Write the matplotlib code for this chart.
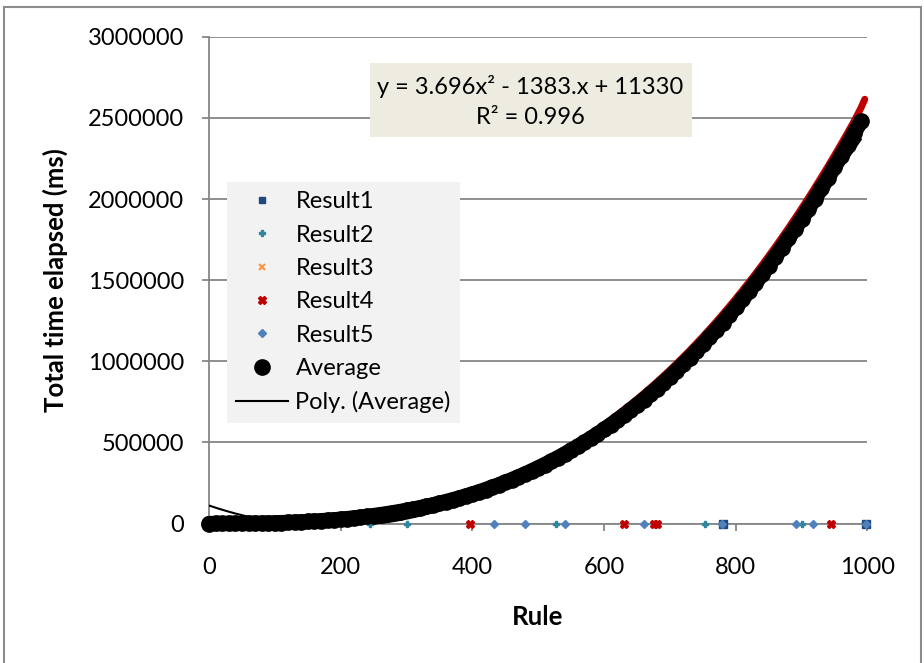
import numpy as np
import matplotlib
matplotlib.use("Agg")
import matplotlib.pyplot as plt
from matplotlib.patches import Rectangle
from matplotlib.lines import Line2D

plt.rcParams['font.family'] = ['Lato', 'DejaVu Sans']

# ---------------- data ----------------
rule_avg = list(range(0, 1000, 10))
average = [
    0, 20, 100, 240, 460, 780, 1200, 1800, 2500, 3300,
    4300, 5500, 6900, 8500, 10300, 12400, 14700, 17200, 20100, 23200,
    26700, 30500, 34600, 39000, 43800, 49000, 54600, 60600, 67100, 73900,
    81200, 89000, 97300, 106000, 115200, 125000, 135300, 146200, 157600, 169600,
    182100, 195300, 209100, 223500, 238600, 254400, 270800, 287900, 305700, 324200,
    343500, 363500, 384300, 405800, 428200, 451300, 475200, 500000, 525600, 552100,
    579500, 607700, 636900, 667000, 698000, 729900, 762800, 796700, 831500, 867400,
    904200, 942100, 981100, 1021100, 1062200, 1104300, 1147600, 1192000, 1237500, 1284100,
    1331900, 1380900, 1431000, 1482400, 1534900, 1588700, 1643800, 1700100, 1757600, 1816500,
    1876600, 1938100, 2000800, 2065000, 2130400, 2197300, 2265500, 2335100, 2406100, 2478600,
]

# Result4 run that shows just above the Average band
result4_curve_x = list(range(600, 1000, 10)) + [996]
result4_curve_y = [
    609500, 638900, 669300, 700600, 732700, 765800, 799900, 835000, 871000, 908100,
    946000, 985100, 1025300, 1066500, 1108800, 1152100, 1196500, 1242100, 1288800, 1336600,
    1385600, 1435800, 1487000, 1539600, 1593300, 1648300, 1704600, 1762100, 1820700, 1880800,
    1942100, 2004800, 2068700, 2134100, 2200600, 2268700, 2338100, 2408900, 2481100, 2560000,
    2615000,
]

# runs that returned 0
result1_zero_x = [781, 998]
result2_zero_x = [244, 301, 527, 754, 901]
result3_zero_x = []
result4_zero_x = [397, 630, 676, 681, 944, 998]
result5_zero_x = [433, 480, 541, 660, 779, 892, 918, 998]

x_ticks = [0, 200, 400, 600, 800, 1000]
y_ticks = [0, 500000, 1000000, 1500000, 2000000, 2500000, 3000000]

eq_text = "y = 3.696x\u00b2 - 1383.x + 11330"
r2_text = "R\u00b2 = 0.996"

# ---------------- styles ----------------
W, H = 924, 663
C1, C2, C3, C4, C5 = '#1F497D', '#31859C', '#F79646', '#C00000', '#4F81BD'
GRAY = '#868686'
FS = 17
FSB = 18.5

fig = plt.figure(figsize=(W / 100, H / 100), dpi=100)
fig.patch.set_facecolor('white')

ax = fig.add_axes([209 / W, 1 - 523.5 / H, 658.4 / W, 486.7 / H])
ax.set_xlim(0, 1000)
ax.set_ylim(0, 3000000)
ax.set_xticks(x_ticks)
ax.set_yticks(y_ticks)
ax.set_xticklabels([str(v) for v in x_ticks])
ax.set_yticklabels([str(v) for v in y_ticks])
ax.yaxis.grid(True, color=GRAY, lw=1.3)
ax.set_axisbelow(True)
for s in ['top', 'right']:
    ax.spines[s].set_visible(False)
for s in ['left', 'bottom']:
    ax.spines[s].set_color(GRAY)
    ax.spines[s].set_linewidth(1.3)
ax.tick_params(axis='both', direction='out', length=5, width=1.3, color=GRAY,
               labelsize=FS, labelcolor='black')
ax.tick_params(axis='y', pad=13)
ax.tick_params(axis='x', pad=19)

# zero results
def zeros(xs):
    return [0 for _ in xs]

ax.plot(result2_zero_x, zeros(result2_zero_x), ls='none', marker='P', ms=4.5, color=C2, zorder=3, clip_on=False)
ax.plot(result3_zero_x, zeros(result3_zero_x), ls='none', marker='x', ms=5, mew=1.5, color=C3, zorder=3, clip_on=False)
ax.plot(result4_zero_x, zeros(result4_zero_x), ls='none', marker='X', ms=6, color=C4, zorder=3, clip_on=False)
ax.plot(result1_zero_x, zeros(result1_zero_x), ls='none', marker='s', ms=5.5, color=C1, zorder=3, clip_on=False)
ax.plot(result5_zero_x, zeros(result5_zero_x), ls='none', marker='D', ms=4.2, color=C5, zorder=3.2, clip_on=False)

# Result4 on the curve
ax.plot(result4_curve_x, result4_curve_y, color=C4, lw=5,
        solid_capstyle='round', solid_joinstyle='round', zorder=3.5, clip_on=False)

# polynomial trendline of Average
coef = np.polyfit(rule_avg, average, 2)
tx = np.linspace(min(rule_avg), max(rule_avg), 300)
ax.plot(tx, np.polyval(coef, tx), color='black', lw=1.5, zorder=3.6)

# Average
ax.plot(rule_avg, average, color='black', lw=11, solid_capstyle='round',
        solid_joinstyle='round', zorder=4, clip_on=False)
ax.plot(rule_avg, average, ls='none', marker='o', ms=11, color='black', zorder=4.1, clip_on=False)

# legend
handles = [
    Line2D([], [], ls='none', marker='s', ms=5, color=C1, label='Result1'),
    Line2D([], [], ls='none', marker='P', ms=4.5, color=C2, label='Result2'),
    Line2D([], [], ls='none', marker='x', ms=5, mew=1.5, color=C3, label='Result3'),
    Line2D([], [], ls='none', marker='X', ms=6, color=C4, label='Result4'),
    Line2D([], [], ls='none', marker='D', ms=4.2, color=C5, label='Result5'),
    Line2D([], [], ls='none', marker='o', ms=11, color='black', label='Average'),
    Line2D([], [], color='black', lw=1.5, label='Poly. (Average)'),
]
leg = ax.legend(handles=handles, loc='upper left',
                bbox_to_anchor=(227 / W, 1 - 182 / H), bbox_transform=fig.transFigure,
                fontsize=FS, frameon=True, fancybox=False, framealpha=1,
                facecolor='#F2F2F2', edgecolor='none', borderpad=0.4,
                labelspacing=0.52, handlelength=2.2, handletextpad=0.3,
                borderaxespad=0)
leg.set_zorder(10)

# equation box
fig.add_artist(Rectangle((370 / W, 1 - 137 / H), 322 / W, 74 / H,
                         transform=fig.transFigure, facecolor='#EEECE1',
                         edgecolor='none', zorder=5))
fig.text(530 / W, 1 - 86 / H, eq_text, ha='center', va='center', fontsize=FS, zorder=6)
fig.text(530 / W, 1 - 118 / H, r2_text, ha='center', va='center', fontsize=FS, zorder=6)

# axis titles
fig.text(55 / W, 1 - 280 / H, 'Total time elapsed (ms)', rotation=90, ha='center',
         va='center', fontsize=FSB, fontweight='bold')
fig.text(538 / W, 1 - 617 / H, 'Rule', ha='center', va='center', fontsize=FSB,
         fontweight='bold')

# outer chart frame
fig.add_artist(Rectangle((4 / W, -0.05), 917 / W, (H - 7) / H + 0.05,
                         transform=fig.transFigure, facecolor='none',
                         edgecolor='#8C8C8C', lw=1.5, zorder=20))

fig.savefig('out.png', dpi=100)
